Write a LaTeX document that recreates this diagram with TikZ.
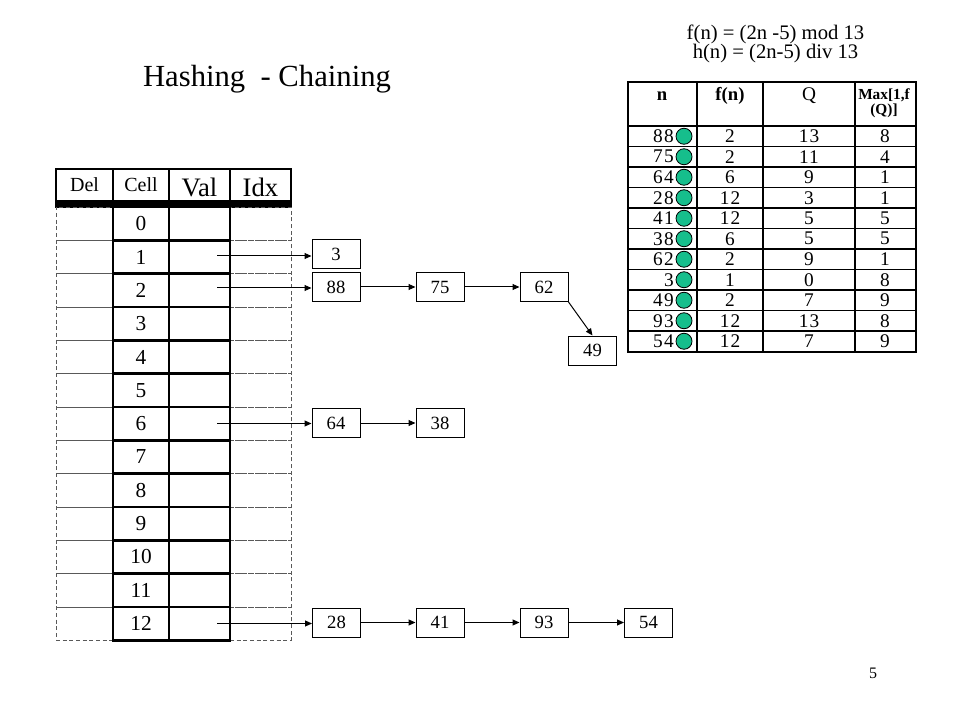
\documentclass[tikz,border=0pt]{standalone}
\usepackage{fontspec}
\setmainfont{Liberation Serif}
\newfontfamily\tabfont[LetterSpace=6]{Liberation Serif}
\usetikzlibrary{arrows.meta}
\definecolor{dotgreen}{RGB}{22,190,140}
\def\fs#1{\fontsize{#1}{#1}\selectfont}

\tikzset{
    slot/.style={draw, line width=2pt, minimum width=42pt, minimum height=25pt, inner sep=0pt, font=\fs{16}},
    dashslot/.style={draw=black!65, densely dashed, line width=0.6pt, minimum height=25pt, inner sep=0pt},
    head/.style={draw, line width=1.6pt, minimum height=24pt, inner sep=0pt},
    elem/.style={draw, line width=0.75pt, minimum width=36pt, minimum height=21.75pt, inner sep=0pt, font=\fs{14}},
    link/.style={line width=0.75pt, -{Triangle[length=5.25pt,width=4.5pt]}},
    rule/.style={line width=1pt},
    num/.style={inner sep=0pt, font=\tabfont\fs{14.5}},
    dot/.style={circle, draw, line width=0.6pt, fill=dotgreen, minimum size=12pt, inner sep=0pt}
}

\begin{document}
\begin{tikzpicture}[x=0.75pt,y=-0.75pt]
    \useasboundingbox (0,0) rectangle (960,720);

    \node[anchor=base, font=\fs{23}] (title) at (267,87) {Hashing\ \ - Chaining};
    \node[align=center, inner sep=0pt, font={\fontsize{15.5}{14.5}\selectfont\lineskiplimit=-20pt}] (eq) at (775.5,44) {f(n) = (2n -5) mod 13\\h(n) = (2n-5) div 13};
    \node[anchor=base, font=\fs{12}] (page) at (873,678) {5};

    \node[head, minimum width=42.75pt, font=\fs{15}] (hDel) at (84.5,185) {Del};
    \node[head, minimum width=42pt, font=\fs{15}] (hCell) at (141,185) {Cell};
    \node[head, minimum width=45.75pt, font=\fs{20}, text height=17pt, text depth=0pt] (hVal) at (199.5,185) {Val};
    \node[head, minimum width=45.75pt, font=\fs{20}, text height=17pt, text depth=0pt] (hIdx) at (260.5,185) {Idx};
    \fill (hDel.south west) rectangle ([yshift=-4.5pt]hIdx.south east);

    \foreach \i in {0,...,12} {
        \node[dashslot, minimum width=42.75pt] (D\i) at (84.5,{223.67+33.333*\i}) {};
        \node[dashslot, minimum width=45.75pt] (I\i) at (260.5,{223.67+33.333*\i}) {};
    }
    \foreach \i in {0,...,12} {
        \node[slot] (C\i) at (141,{223.67+33.333*\i}) {\i};
        \node[slot, minimum width=45.75pt] (V\i) at (199.5,{223.67+33.333*\i}) {};
    }

    \node[elem] (B3) at (336,254.5) {3};
    \node[elem] (B88) at (336,287) {88};
    \node[elem] (B75) at (440,287) {75};
    \node[elem] (B62) at (544,287) {62};
    \node[elem] (B49) at (592.5,350.5) {49};
    \node[elem] (B64) at (336,423) {64};
    \node[elem] (B38) at (440,423) {38};
    \node[elem] (B28) at (336.5,622.5) {28};
    \node[elem] (B41) at (440,622.5) {41};
    \node[elem] (B93) at (544,622.5) {93};
    \node[elem] (B54) at (648.5,622.5) {54};

    \coordinate (P1) at (217,256);
    \coordinate (P2) at (217,288);
    \coordinate (P6) at (217,423.5);
    \coordinate (P12) at (217,623.5);

    \draw[link] (P1) -- (P1 -| B3.west);
    \draw[link] (P2) -- (P2 -| B88.west);
    \draw[link] (B88) -- (B75);
    \draw[link] (B75) -- (B62);
    \draw[link] (B62.south east) -- (B49.north);

    \draw[link] (P6) -- (P6 -| B64.west);
    \draw[link] (B64) -- (B38);

    \draw[link] (P12) -- (P12 -| B28.west);
    \draw[link] (B28) -- (B41);
    \draw[link] (B41) -- (B93);
    \draw[link] (B93) -- (B54);

    \foreach \k in {0,...,10}
        \draw[rule] (628,{126+20.5*\k}) -- (916,{126+20.5*\k});
    \foreach \x in {697,763,855}
        \draw[rule] (\x,82) -- (\x,352);
    \draw[line width=2pt] (628,82) rectangle (916,352);

    \node[font=\bfseries\fs{14}] (hn) at (662,96) {n};
    \node[font=\bfseries\fs{14}] (hf) at (730,96) {f(n)};
    \node[font=\fs{14.5}] (hq) at (809,96) {Q};
    \node[font=\bfseries\fs{11.5}, align=center, inner sep=0pt] (hm) at (884,103) {Max[1,f\\(Q)]};

    \foreach \n/\f/\q/\m [count=\k from 0] in {88/2/13/8, 75/2/11/4, 64/6/9/1, 28/12/3/1, 41/12/5/5, 38/6/5/5, 62/2/9/1, 3/1/0/8, 49/2/7/9, 93/12/13/8, 54/12/7/9} {
        \node[num, anchor=east] (n\k) at (674,{136.25+20.5*\k}) {\n};
        \node[dot] (d\k) at (684,{136.25+20.5*\k}) {};
        \node[num] (f\k) at (730,{136.25+20.5*\k}) {\f};
        \node[num] (q\k) at (809,{136.25+20.5*\k}) {\q};
        \node[num] (m\k) at (885,{136.25+20.5*\k}) {\m};
    }

\end{tikzpicture}
\end{document}
